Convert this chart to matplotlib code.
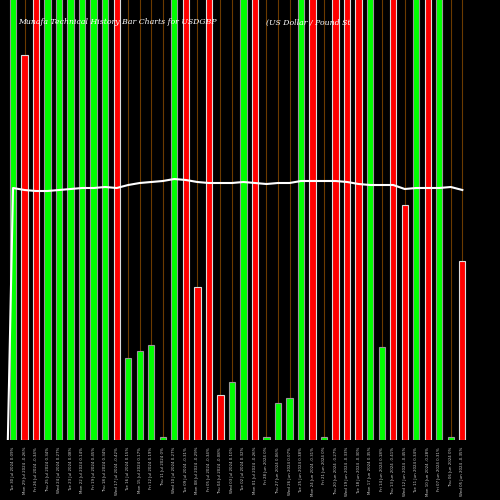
import matplotlib
matplotlib.use("Agg")
import matplotlib.pyplot as plt

colors = ['G','R','R','G','G','G','G','G','G','R','G','G','G','G','G','R','R','R','R','G','G',
          'R','G','G','G','G','R','G','R','R','R','G','G','R','R','G','R','G','G','R']
tops = [0,55,0,0,0,0,0,0,0,0,358,351,345,437,0,0,287,0,395,382,0,
        0,437,403,398,0,0,437,0,0,0,0,347,0,205,0,0,0,437,261]
heights = [440 - t if t > 0 else 600 for t in tops]
line_px = [188,190,191,191,190,189,188,188,187,188,185,183,182,181,179,180,182,183,183,183,
           182,183,184,183,183,181,181,181,181,182,184,185,185,185,189,188,188,188,187,190]
line_vals = [440 - v for v in line_px]
labels = ["Tue 30 Jul 2024 0.09%","Mon 29 Jul 2024 -0.26%","Fri 26 Jul 2024 -0.34%","Thu 25 Jul 2024 0.34%",
"Wed 24 Jul 2024 0.27%","Tue 23 Jul 2024 0.08%","Mon 22 Jul 2024 0.14%","Fri 19 Jul 2024 0.45%",
"Thu 18 Jul 2024 0.34%","Wed 17 Jul 2024 -0.42%","Tue 16 Jul 2024 0.15%","Mon 15 Jul 2024 0.17%",
"Fri 12 Jul 2024 0.19%","Thu 11 Jul 2024 0%","Wed 10 Jul 2024 0.27%","Tue 09 Jul 2024 -0.31%",
"Mon 08 Jul 2024 -0.29%","Fri 05 Jul 2024 -0.34%","Thu 04 Jul 2024 -0.08%","Wed 03 Jul 2024 0.10%",
"Tue 02 Jul 2024 0.32%","Mon 01 Jul 2024 -0.26%","Fri 28 Jun 2024 0%","Thu 27 Jun 2024 0.06%",
"Wed 26 Jun 2024 0.07%","Tue 25 Jun 2024 0.38%","Mon 24 Jun 2024 -0.31%","Fri 21 Jun 2024 0%",
"Thu 20 Jun 2024 -0.27%","Wed 19 Jun 2024 -0.33%","Tue 18 Jun 2024 -0.30%","Mon 17 Jun 2024 0.35%",
"Fri 14 Jun 2024 0.18%","Thu 13 Jun 2024 -0.41%","Wed 12 Jun 2024 -0.45%","Tue 11 Jun 2024 0.34%",
"Mon 10 Jun 2024 -0.28%","Fri 07 Jun 2024 0.31%","Thu 06 Jun 2024 0%","Wed 05 Jun 2024 -0.35%"]

x = list(range(len(heights)))
fig = plt.figure(figsize=(5, 5), dpi=100, facecolor='black')
ax = fig.add_axes([0, 0.12, 1, 0.88])
ax.set_facecolor('black')
ax.set_xlim(-1.13, 42.27)
ax.set_ylim(0, 440)
for xi in x:
    ax.axvline(xi, color='#6b3a00', lw=0.8, zorder=1)
fc = ['#00ff00' if c == 'G' else '#ff0000' for c in colors]
ec = ['#999999' if c == 'G' else '#dddddd' for c in colors]
ax.bar(x, heights, width=0.55, color=fc, edgecolor=ec, linewidth=0.8, zorder=2)
ax.plot([-0.45] + x, [0] + line_vals, color='white', lw=1.5, zorder=3)
ax.set_xticks(x)
ax.set_xticklabels(labels, rotation=90, fontsize=2.9, color='#cccccc')
ax.tick_params(axis='x', length=0, pad=5)
ax.set_yticks([])
for s in ax.spines.values():
    s.set_visible(False)
fig.text(0.037, 0.955, "Munafa Technical History Bar Charts for USDGBP", color='white',
         fontsize=5.6, family='DejaVu Serif', style='italic', va='center')
fig.text(0.532, 0.955, "(US Dollar / Pound St", color='white',
         fontsize=5.6, family='DejaVu Serif', style='italic', va='center')
fig.savefig("out.png", facecolor='black')
